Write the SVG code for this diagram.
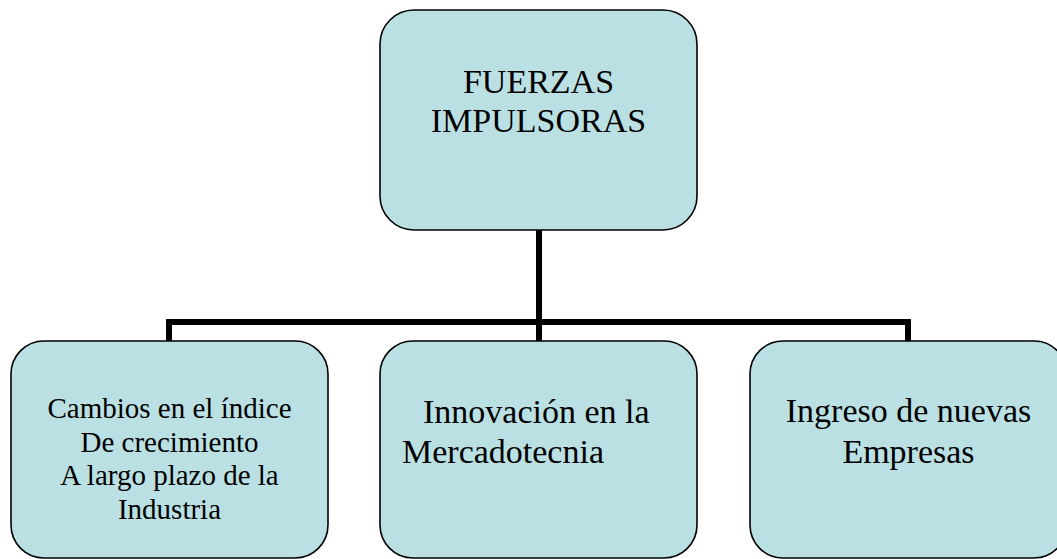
<svg xmlns="http://www.w3.org/2000/svg" width="1057" height="559" viewBox="0 0 1057 559">
<style>
.box{fill:#bae0e3;stroke:#000;stroke-width:1.6}
.t{font-family:"Liberation Serif","Times New Roman",serif;fill:#000}
.big{font-size:34px}
.sm{font-size:29px}
.conn{fill:none;stroke:#000;stroke-width:6;stroke-linejoin:miter}
</style>
<rect width="1057" height="559" fill="#fff"/>
<g id="connectors">
<path class="conn" d="M539,230 V341 M169,341 V322 H908 V341"/>
</g>
<g id="top">
<rect class="box" x="380" y="10" width="317" height="220" rx="34" ry="34"/>
<text class="t big" text-anchor="middle" x="538.5" y="93">FUERZAS</text>
<text class="t big" text-anchor="middle" x="538.5" y="132">IMPULSORAS</text>
</g>
<g id="left">
<rect class="box" x="11" y="341" width="317" height="217" rx="33" ry="33"/>
<text class="t sm" text-anchor="middle" x="169.5" y="418">Cambios en el índice</text>
<text class="t sm" text-anchor="middle" x="169.5" y="452">De crecimiento</text>
<text class="t sm" text-anchor="middle" x="169.5" y="485">A largo plazo de la</text>
<text class="t sm" text-anchor="middle" x="169.5" y="519">Industria</text>
</g>
<g id="middle">
<rect class="box" x="380" y="341" width="317" height="217" rx="33" ry="33"/>
<text class="t big" x="423" y="423">Innovación en la</text>
<text class="t big" x="402" y="463">Mercadotecnia</text>
</g>
<g id="right">
<rect class="box" x="750" y="341" width="317" height="217" rx="33" ry="33"/>
<text class="t big" text-anchor="middle" x="908.5" y="422">Ingreso de nuevas</text>
<text class="t big" text-anchor="middle" x="908.5" y="463">Empresas</text>
</g>
</svg>
